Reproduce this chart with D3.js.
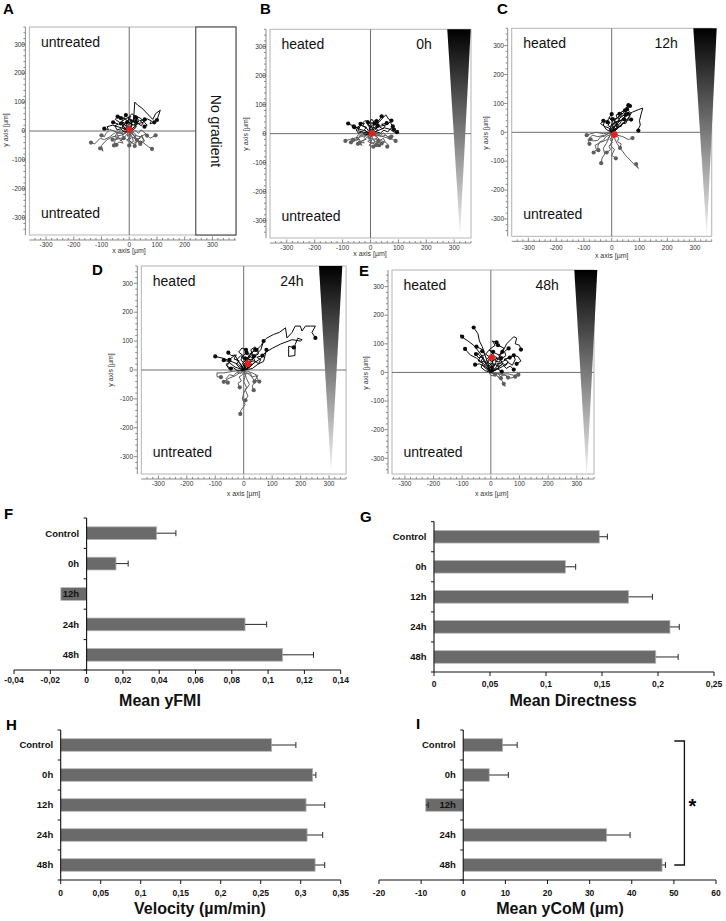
<!DOCTYPE html>
<html><head><meta charset="utf-8">
<script src="https://cdn.jsdelivr.net/npm/d3@7"></script>
<style>body{margin:0;background:#fff}svg{display:block}text{font-family:"Liberation Sans",Arial,sans-serif}</style>
</head><body><svg id="c" width="726" height="921"></svg>
<script>
// ---------------- DATA ----------------
const barCategories = ["Control", "0h", "12h", "24h", "48h"];
const yFMI = [0.0386, 0.0162, -0.0142, 0.0873, 0.108];
const yFMIErr = [0.0492, 0.0229, -0.0142, 0.0992, 0.125];
const directness = [0.1476, 0.1173, 0.1738, 0.2107, 0.198];
const directnessErr = [0.1548, 0.1265, 0.195, 0.219, 0.218];
const velocity = [0.2637, 0.315, 0.3067, 0.308, 0.318];
const velocityErr = [0.294, 0.319, 0.330, 0.3275, 0.330];
const yCoM = [9.35, 6.17, -8.9, 34.05, 47.2];
const yCoMErr = [12.8, 10.7, -8.3, 39.6, 48.0];

const ticksFMI = [-0.04, -0.02, 0, 0.02, 0.04, 0.06, 0.08, 0.1, 0.12, 0.14];
const tickLabelsFMI = ["-0,04", "-0,02", "0", "0,02", "0,04", "0,06", "0,08", "0,1", "0,12", "0,14"];
const ticksDir = [0, 0.05, 0.1, 0.15, 0.2, 0.25];
const tickLabelsDir = ["0", "0,05", "0,1", "0,15", "0,2", "0,25"];
const ticksVel = [0, 0.05, 0.1, 0.15, 0.2, 0.25, 0.3, 0.35];
const tickLabelsVel = ["0", "0,05", "0,1", "0,15", "0,2", "0,25", "0,3", "0,35"];
const ticksCoM = [-20, -10, 0, 10, 20, 30, 40, 50, 60];
const tickLabelsCoM = ["-20", "-10", "0", "10", "20", "30", "40", "50", "60"];

const trackTicks = [-300, -200, -100, 0, 100, 200, 300];

// trajectories (x, y in µm), all starting at the origin
const tracksA = [
  [[0,0],[10,20],[5,40],[15,30],[20,100],[30,90],[45,80],[70,55],[85,40],[95,60],[112,72],[100,38]],
  [[0,0],[-20,15],[-35,30],[-50,40],[-40,55],[-30,45]],
  [[0,0],[15,10],[30,25],[50,30],[65,42],[80,35],[75,25],[90,30]],
  [[0,0],[-10,20],[-5,35],[-20,45],[-12,55]],
  [[0,0],[20,15],[35,35],[25,50],[40,45],[55,30],[65,20],[55,15]],
  [[0,0],[-25,10],[-60,20],[-80,15],[-75,5],[-90,8]],
  [[0,0],[5,15],[10,30],[-5,45],[10,60],[25,45]],
  [[0,0],[-20,28],[-38,22],[-15,42],[5,50],[-8,30]],
  [[0,0],[8,12],[-6,18],[4,28],[-10,34],[2,42],[14,36],[6,24],[18,20],[24,32]],
  [[0,0],[-12,6],[-22,16],[-14,26],[-28,32],[-20,44],[-34,40],[-42,50]],
  [[0,0],[14,4],[26,14],[18,22],[32,26],[44,18],[50,28],[38,36],[56,40]],
  [[0,0],[-4,10],[10,18],[2,30],[16,40],[28,34],[22,48]],
  [[0,0],[-18,-4],[-30,8],[-44,4],[-52,18],[-40,24],[-58,30]],
  [[0,0],[6,8],[-8,14],[-16,6],[-26,14],[-18,22],[-30,26]],
  [[0,0],[-20,-10],[-50,-5],[-70,-20],[-90,-30],[-105,-25],[-125,-45],[-138,-40]],
  [[0,0],[-30,-15],[-60,-20],[-80,-30],[-100,-50],[-95,-70],[-105,-60]],
  [[0,0],[-15,-20],[-30,-25],[-50,-30],[-55,-50]],
  [[0,0],[20,-15],[40,-20],[60,-10],[75,-25],[90,-18],[95,-15]],
  [[0,0],[10,-20],[30,-35],[50,-40],[70,-55],[82,-62]],
  [[0,0],[-40,-5],[-70,5],[-85,-10],[-90,-20],[-100,-15]],
  [[0,0],[5,-15],[-5,-30],[10,-40],[0,-50]],
  [[0,0],[-25,10],[-45,-10],[-30,-35],[-20,-25]],
  [[0,0],[30,-30],[45,-15],[55,-35],[40,-45]],
  [[0,0],[6,-10],[-8,-16],[4,-26],[-10,-30],[2,-42],[16,-36],[10,-24],[22,-20],[28,-32]],
  [[0,0],[-12,-6],[-24,-14],[-16,-24],[-30,-30],[-22,-42],[-38,-38],[-46,-48]],
  [[0,0],[14,-4],[26,-14],[18,-24],[34,-28],[46,-20],[52,-32],[40,-40]],
  [[0,0],[-6,-12],[8,-20],[0,-32],[14,-44],[26,-38],[20,-52]],
  [[0,0],[-16,4],[-28,-8],[-44,-6],[-52,-20],[-38,-24],[-60,-30]],
  [[0,0],[10,-6],[20,2],[34,-8],[42,4],[56,-6],[64,-16]]
];
const tracksB = [
  [[0,0],[-20,10],[-40,15],[-55,25],[-70,30],[-80,35]],
  [[0,0],[-15,20],[-35,30],[-50,20],[-60,25]],
  [[0,0],[15,20],[30,40],[45,55],[55,65],[65,50],[75,45]],
  [[0,0],[25,10],[50,20],[70,15],[85,5],[100,10],[95,5]],
  [[0,0],[-5,25],[10,40],[20,50],[30,45],[40,60]],
  [[0,0],[30,25],[55,30],[70,40],[80,25]],
  [[0,0],[-25,5],[-45,10],[-35,30],[-20,45],[-10,40]],
  [[0,0],[10,15],[-10,30],[5,50],[15,35]],
  [[0,0],[8,10],[-6,16],[4,24],[-10,30],[2,38],[14,32],[8,22],[20,18],[26,28]],
  [[0,0],[-12,6],[-22,14],[-14,22],[-28,26],[-22,36],[-36,34]],
  [[0,0],[14,4],[26,12],[18,20],[32,24],[44,16],[52,26],[40,32],[58,36]],
  [[0,0],[-4,10],[10,16],[2,26],[16,34],[28,28],[22,42]],
  [[0,0],[-18,-4],[-30,6],[-44,2],[-52,14],[-40,20],[-58,22]],
  [[0,0],[20,6],[36,2],[48,12],[62,6],[72,18],[84,14]],
  [[0,0],[-30,-10],[-55,-15],[-75,-20],[-90,-25]],
  [[0,0],[20,-10],[40,-25],[55,-30],[65,-40],[60,-45]],
  [[0,0],[10,-20],[25,-35],[35,-45],[30,-40]],
  [[0,0],[-20,-20],[-40,-30],[-30,-40],[-45,-35]],
  [[0,0],[30,-5],[60,-15],[80,-20],[90,-25]],
  [[0,0],[-10,-15],[5,-30],[-5,-40],[10,-45]],
  [[0,0],[40,-10],[55,-5],[70,-20],[75,-10]],
  [[0,0],[-35,-5],[-50,-25],[-65,-15],[-70,-30]],
  [[0,0],[6,-10],[-8,-14],[4,-22],[-10,-26],[2,-34],[16,-30],[10,-20],[22,-16],[28,-26]],
  [[0,0],[-12,-6],[-24,-12],[-16,-20],[-30,-24],[-22,-32],[-38,-30]],
  [[0,0],[14,-4],[26,-12],[18,-20],[34,-24],[46,-16],[52,-28],[40,-34]],
  [[0,0],[-6,-12],[8,-18],[0,-28],[14,-36],[26,-30],[20,-40]],
  [[0,0],[-16,4],[-28,-6],[-44,-4],[-52,-16],[-38,-20],[-62,-22]],
  [[0,0],[10,-6],[22,2],[36,-6],[46,2],[58,-8],[70,-14]]
];
const tracksC = [
  [[0,0],[10,20],[20,35],[30,50],[45,60],[55,75],[60,85],[66,91]],
  [[0,0],[15,25],[35,45],[55,60],[75,70],[95,78],[112,84],[105,60],[100,40],[103,25],[95,10],[96,6]],
  [[0,0],[-5,20],[5,35],[-10,50],[0,63]],
  [[0,0],[-20,10],[-30,25],[-25,40],[-15,35]],
  [[0,0],[20,15],[40,30],[55,40],[65,55],[60,70],[50,60]],
  [[0,0],[10,10],[25,20],[15,35],[30,40],[45,45]],
  [[0,0],[-10,15],[-25,20],[-40,30],[-30,40]],
  [[0,0],[30,20],[45,35],[60,50],[70,65],[55,80]],
  [[0,0],[6,12],[0,22],[12,30],[8,42],[20,48],[16,60],[28,64]],
  [[0,0],[10,8],[4,18],[18,24],[14,36],[28,40],[24,52],[38,58],[34,70],[48,76]],
  [[0,0],[-4,10],[6,16],[2,28],[14,34],[10,46],[22,50],[30,62],[42,66],[50,82],[60,94]],
  [[0,0],[12,4],[20,14],[16,24],[30,30],[36,42],[48,46],[46,58],[58,64]],
  [[0,0],[-8,6],[-4,18],[-14,24],[-6,34],[-16,40],[-8,50],[4,46]],
  [[0,0],[8,16],[18,10],[22,22],[34,20],[38,32],[50,30],[56,42],[70,44]],
  [[0,0],[10,-20],[20,-40],[35,-60],[50,-80],[70,-100],[85,-115],[96,-125],[88,-110]],
  [[0,0],[-10,-20],[-20,-40],[-30,-55],[-25,-75],[-35,-90],[-38,-107]],
  [[0,0],[-25,-10],[-50,-15],[-70,-10],[-85,-25],[-80,-40]],
  [[0,0],[-15,-25],[-40,-35],[-60,-45],[-55,-60],[-65,-70]],
  [[0,0],[20,-10],[40,-15],[60,-25],[75,-20]],
  [[0,0],[5,-20],[-5,-45],[10,-60],[0,-80],[15,-90]],
  [[0,0],[-30,-5],[-55,0],[-75,-5],[-90,-10]],
  [[0,0],[-8,-10],[-20,-14],[-30,-28],[-44,-34],[-50,-48],[-48,-62]],
  [[0,0],[4,-12],[-6,-24],[2,-36],[-10,-48],[-4,-60],[-18,-70]],
  [[0,0],[-14,-4],[-26,-14],[-40,-16],[-50,-28],[-68,-30],[-76,-24]],
  [[0,0],[12,-8],[26,-20],[20,-32],[34,-40],[30,-54]]
];
const tracksD = [
  [[0,0],[20,30],[40,50],[60,70],[70,100],[80,110],[105,123],[125,130],[147,146],[152,111],[170,130],[181,152],[199,152],[205,135],[217,152],[235,152],[252,152],[240,130],[252,111]],
  [[0,0],[30,20],[60,40],[75,60],[100,75],[130,90],[170,105],[200,100],[205,105],[190,110],[181,88],[180,50],[158,47],[158,82],[176,78]],
  [[0,0],[-20,20],[-45,30],[-70,40],[-100,47]],
  [[0,0],[10,30],[30,55],[25,70],[40,80],[45,70]],
  [[0,0],[-15,25],[-30,50],[-40,45],[-50,35]],
  [[0,0],[30,5],[50,20],[70,30],[75,50],[80,70]],
  [[0,0],[-30,10],[-50,25],[-60,15],[-45,5]],
  [[0,0],[15,45],[35,65],[20,55],[10,60]],
  [[0,0],[-10,20],[-25,35],[-10,50],[5,40]],
  [[0,0],[10,14],[-6,22],[8,34],[-8,44],[6,56],[22,50],[14,38],[30,34],[36,48]],
  [[0,0],[-14,8],[-26,20],[-16,32],[-34,38],[-26,52],[-44,50],[-54,60]],
  [[0,0],[16,6],[30,18],[20,28],[38,32],[52,22],[60,36],[46,44],[66,50]],
  [[0,0],[-4,14],[12,22],[4,36],[20,48],[34,40],[28,58],[40,70]],
  [[0,0],[-20,-4],[-36,8],[-52,4],[-62,20],[-48,28],[-70,34]],
  [[0,0],[6,20],[-10,34],[-2,50],[-18,62],[-6,76],[8,70]],
  [[0,0],[24,12],[40,28],[34,44],[52,56],[48,72],[62,86],[70,100]],
  [[0,0],[5,-20],[0,-40],[10,-60],[0,-80],[-5,-100],[5,-120],[-10,-140],[-12,-152]],
  [[0,0],[10,-30],[20,-50],[6,-70],[15,-90],[6,-105]],
  [[0,0],[25,-20],[40,-40],[30,-55],[35,-70]],
  [[0,0],[-40,-5],[-70,-10],[-94,-10],[-94,-23],[-80,-25]],
  [[0,0],[-30,-20],[-55,-30],[-70,-41]],
  [[0,0],[30,-10],[50,-20],[40,-35],[55,-40]],
  [[0,0],[-10,-12],[-24,-8],[-36,-20],[-50,-16],[-62,-30],[-56,-44]],
  [[0,0],[8,-14],[22,-10],[30,-24],[44,-20],[50,-34],[38,-40]],
  [[0,0],[-4,-16],[-16,-24],[-8,-38],[-20,-46],[-14,-60]]
];
const tracksE = [
  [[0,0],[-10,30],[-20,60],[-30,90],[-40,110],[-45,135],[-55,150],[-60,157]],
  [[0,0],[-20,40],[-40,70],[-60,95],[-80,110],[-95,120],[-107,131],[-100,125]],
  [[0,0],[-25,30],[-50,50],[-70,60],[-85,75],[-90,82]],
  [[0,0],[20,40],[40,70],[55,100],[70,115],[80,125],[90,120],[85,100],[100,95],[105,80]],
  [[0,0],[-20,20],[-40,30],[-55,27]],
  [[0,0],[20,15],[38,3]],
  [[0,0],[30,30],[60,50],[80,60],[95,55],[105,40],[90,30]],
  [[0,0],[10,60],[-5,80],[15,95],[5,110],[20,105]],
  [[0,0],[-30,50],[-45,65],[-30,80],[-50,90]],
  [[0,0],[40,20],[60,35],[75,25],[85,45],[80,60]],
  [[0,0],[-15,45],[10,70],[30,60],[45,85],[25,95]],
  [[0,0],[10,14],[-6,24],[8,36],[-8,46],[6,58],[22,52],[14,40],[30,36],[36,50]],
  [[0,0],[-14,10],[-26,22],[-16,34],[-34,40],[-26,54],[-44,52],[-52,64]],
  [[0,0],[16,8],[30,20],[20,30],[38,34],[52,24],[60,38],[46,46],[66,52]],
  [[0,0],[-4,16],[12,24],[4,38],[20,50],[34,42],[28,60],[40,72]],
  [[0,0],[6,22],[-10,36],[-2,52],[-18,64],[-6,78],[8,72]],
  [[0,0],[24,14],[40,30],[34,46],[52,58],[48,74],[62,84]],
  [[0,0],[-20,6],[-34,18],[-28,32],[-44,40],[-36,56],[-20,62],[-30,74]],
  [[0,0],[12,30],[26,20],[40,28],[54,14],[68,22],[80,10]],
  [[0,0],[20,-10],[40,-30],[50,-49],[45,-40]],
  [[0,0],[30,-5],[60,-5],[80,-10],[96,-8]],
  [[0,0],[15,-5],[25,-15],[35,-20]],
  [[0,0],[50,-10],[70,-20],[85,-15]],
  [[0,0],[10,-6],[24,-4],[34,-14],[48,-8],[60,-18]],
  [[0,0],[-6,-4],[4,-12],[14,-8]]
];
const comA = [0, 6];
const comB = [5, 1];
const comC = [10, -8];
const comD = [15, 22];
const comE = [3, 52];

// ---------------- DRAWING ----------------
const svg = d3.select("#c");
const defs = svg.append("defs");
const lg = defs.append("linearGradient").attr("id", "grad").attr("x1", 0).attr("y1", 0).attr("x2", 0).attr("y2", 1);
lg.append("stop").attr("offset", "0").attr("stop-color", "#000");
lg.append("stop").attr("offset", "1").attr("stop-color", "#f4f4f4");

const scatterPanels = [
  {letter: "A", lx: 3, ly: 14, tracks: tracksA, com: comA, xr: [29.4, 236], xd: [-360, 385], yr: [235, 27], yd: [-360, 360],
   hEnd: 240, noGrad: true, topText: "untreated", topRight: null, yLabX: 25, xLabY: 247, axX: 129, axY: 253, ayX: 8, ayY: 130},
  {letter: "B", lx: 260, ly: 14, tracks: tracksB, com: comB, xr: [270, 471], xd: [-360, 360], yr: [238, 29.3], yd: [-360, 360],
   tri: [447.3, 470.7, 460, 236], topText: "heated", topRight: "0h", yLabX: 266, xLabY: 250, axX: 370, axY: 256, ayX: 248, ayY: 134},
  {letter: "C", lx: 497, ly: 14, tracks: tracksC, com: comC, xr: [511.7, 711.7], xd: [-360, 360], yr: [236.3, 28.3], yd: [-360, 360],
   tri: [693.3, 716.7, 706.7, 236], topText: "heated", topRight: "12h", yLabX: 504, xLabY: 250, axX: 611.7, axY: 258, ayX: 488, ayY: 133},
  {letter: "D", lx: 92, ly: 275, tracks: tracksD, com: comD, xr: [141.3, 346.1], xd: [-360, 360], yr: [474, 266], yd: [-360, 360],
   tri: [319, 342.3, 331, 472.7], topText: "heated", topRight: "24h", yLabX: 133, xLabY: 486, axX: 243.5, axY: 496, ayX: 113, ayY: 370},
  {letter: "E", lx: 359, ly: 276, tracks: tracksE, com: comE, xr: [392, 594], xd: [-345, 360], yr: [474, 270], yd: [-355, 358],
   tri: [574.3, 597.3, 586.7, 476.7], topText: "heated", topRight: "48h", yLabX: 384, xLabY: 486, axX: 491.7, axY: 496, ayX: 368, ayY: 373}
];

function drawScatter(p) {
  const g = svg.append("g");
  const x = d3.scaleLinear().domain(p.xd).range(p.xr);
  const y = d3.scaleLinear().domain(p.yd).range(p.yr);
  const top = p.yr[1], bot = p.yr[0], left = p.xr[0], right = p.xr[1];
  g.append("rect").attr("x", left).attr("y", top).attr("width", right - left).attr("height", bot - top)
    .attr("fill", "#fff").attr("stroke", "#b4b4b4").attr("stroke-width", 1);
  g.append("line").attr("x1", x(0)).attr("x2", x(0)).attr("y1", top).attr("y2", bot).attr("stroke", "#6e6e6e").attr("stroke-width", 1);
  g.append("line").attr("x1", left).attr("x2", p.hEnd != null ? x(p.hEnd) : right).attr("y1", y(0)).attr("y2", y(0))
    .attr("stroke", "#6e6e6e").attr("stroke-width", 1);
  const axc = "#8a8a8a";
  const xAxY = bot + 5, yAxX = left - 4;
  g.append("line").attr("x1", left).attr("x2", right).attr("y1", xAxY).attr("y2", xAxY).attr("stroke", axc);
  g.append("line").attr("x1", yAxX).attr("x2", yAxX).attr("y1", top).attr("y2", bot).attr("stroke", axc);
  const minor = d3.range(-340, 381, 20);
  minor.filter(v => v >= p.xd[0] && v <= p.xd[1]).forEach(v => {
    const L = v % 100 === 0 ? 3.5 : 2;
    g.append("line").attr("x1", x(v)).attr("x2", x(v)).attr("y1", xAxY).attr("y2", xAxY - L).attr("stroke", axc);
  });
  minor.filter(v => v >= p.yd[0] && v <= p.yd[1]).forEach(v => {
    const L = v % 100 === 0 ? 3.5 : 2;
    g.append("line").attr("x1", yAxX).attr("x2", yAxX - L).attr("y1", y(v)).attr("y2", y(v)).attr("stroke", axc);
  });
  trackTicks.forEach(v => {
    g.append("text").attr("x", x(v)).attr("y", p.xLabY).attr("text-anchor", "middle").attr("font-size", 6.5).attr("fill", "#333").text(v);
    g.append("text").attr("x", p.yLabX).attr("y", y(v)).attr("dy", "0.35em").attr("text-anchor", "end").attr("font-size", 6.5).attr("fill", "#333").text(v);
  });
  g.append("text").attr("x", p.axX).attr("y", p.axY).attr("text-anchor", "middle").attr("font-size", 7).attr("fill", "#333").text("x axis [µm]");
  g.append("text").attr("transform", `translate(${p.ayX},${p.ayY}) rotate(-90)`).attr("text-anchor", "middle").attr("font-size", 7).attr("fill", "#333").text("y axis [µm]");
  const line = d3.line().x(d => x(d[0])).y(d => y(d[1]));
  const tg = g.append("g");
  const ordered = p.tracks.slice().sort((a, b) => a[a.length - 1][1] - b[b.length - 1][1]);
  ordered.forEach(t => {
    const end = t[t.length - 1];
    const col = end[1] >= 0 ? "#0a0a0a" : "#5e5e5e";
    tg.append("path").attr("d", line(t)).attr("fill", "none").attr("stroke", col).attr("stroke-width", 1).attr("stroke-linejoin", "round");
    tg.append("circle").attr("cx", x(end[0])).attr("cy", y(end[1])).attr("r", 2.1).attr("fill", col);
  });
  g.append("circle").attr("cx", x(p.com[0])).attr("cy", y(p.com[1])).attr("r", 3.3).attr("fill", "#e3201b");
  if (p.noGrad) {
    const bx = x(p.hEnd);
    g.append("rect").attr("x", bx).attr("y", top).attr("width", right - bx).attr("height", bot - top).attr("fill", "#fff").attr("stroke", "#333");
    g.append("text").attr("transform", `translate(${(bx + right) / 2 - 5},${(top + bot) / 2}) rotate(90)`).attr("text-anchor", "middle")
      .attr("font-size", 14).attr("fill", "#111").text("No gradient");
  } else {
    const t = p.tri;
    g.append("path").attr("d", `M${t[0]},${top}L${t[1]},${top}L${t[2]},${t[3]}Z`).attr("fill", "url(#grad)");
  }
  g.append("text").attr("x", left + 11.5).attr("y", top + 20).attr("font-size", 14).attr("fill", "#111").text(p.topText);
  g.append("text").attr("x", left + 11.5).attr("y", bot - 17.5).attr("font-size", 14).attr("fill", "#111").text("untreated");
  if (p.topRight) {
    g.append("text").attr("x", p.tri[0] - 15.5).attr("y", top + 20).attr("text-anchor", "end").attr("font-size", 14).attr("fill", "#111").text(p.topRight);
  }
  svg.append("text").attr("x", p.lx).attr("y", p.ly).attr("font-size", 15).attr("font-weight", "bold").text(p.letter);
}
scatterPanels.forEach(drawScatter);

// ---------------- BAR CHARTS ----------------
const barPanels = [
  {letter: "F", lx: 4, ly: 519, values: yFMI, errs: yFMIErr, ticks: ticksFMI, labels: tickLabelsFMI, xd: [-0.04, 0.14], xr: [14, 340.7],
   band: [518, 670], tickY: 683, title: "Mean yFMI", titleX: 160, titleY: 706},
  {letter: "G", lx: 360, ly: 522, values: directness, errs: directnessErr, ticks: ticksDir, labels: tickLabelsDir, xd: [0, 0.25], xr: [434, 714],
   band: [521.7, 672], tickY: 687, title: "Mean Directness", titleX: 573, titleY: 706},
  {letter: "H", lx: 6, ly: 730, values: velocity, errs: velocityErr, ticks: ticksVel, labels: tickLabelsVel, xd: [0, 0.35], xr: [60.7, 340.7],
   band: [730, 880], tickY: 896, title: "Velocity (µm/min)", titleX: 200, titleY: 914},
  {letter: "I", lx: 416, ly: 729, values: yCoM, errs: yCoMErr, ticks: ticksCoM, labels: tickLabelsCoM, xd: [-20, 60], xr: [379, 716],
   band: [730, 880], tickY: 896, title: "Mean yCoM (µm)", titleX: 560, titleY: 914}
];

function drawBars(p) {
  const g = svg.append("g");
  const x = d3.scaleLinear().domain(p.xd).range(p.xr);
  const y = d3.scaleBand().domain(barCategories).range(p.band).paddingInner(0.58).paddingOuter(0.29);
  const x0 = x(0);
  const bw = y.bandwidth();
  barCategories.forEach((c, i) => {
    const v = p.values[i];
    g.append("rect").attr("x", Math.min(x0, x(v))).attr("y", y(c)).attr("width", Math.abs(x(v) - x0)).attr("height", bw)
      .attr("fill", "#6a6a6a").attr("stroke", "#b8b8b8").attr("stroke-width", 0.8);
  });
  barCategories.forEach((c, i) => {
    const v = p.values[i], e = p.errs[i];
    if (e === v) return;
    const cy = y(c) + bw / 2;
    g.append("line").attr("x1", x(v)).attr("x2", x(e)).attr("y1", cy).attr("y2", cy).attr("stroke", "#2a2a2a").attr("stroke-width", 1);
    g.append("line").attr("x1", x(e)).attr("x2", x(e)).attr("y1", cy - 3).attr("y2", cy + 3).attr("stroke", "#2a2a2a").attr("stroke-width", 1);
  });
  const yb = p.band[1];
  g.append("line").attr("x1", p.xr[0]).attr("x2", p.xr[1]).attr("y1", yb).attr("y2", yb).attr("stroke", "#111").attr("stroke-width", 1.1);
  g.append("line").attr("x1", x0).attr("x2", x0).attr("y1", p.band[0]).attr("y2", yb).attr("stroke", "#111").attr("stroke-width", 1.1);
  p.ticks.forEach((t, i) => {
    g.append("line").attr("x1", x(t)).attr("x2", x(t)).attr("y1", yb).attr("y2", yb + 4).attr("stroke", "#111");
    g.append("text").attr("x", x(t)).attr("y", p.tickY).attr("text-anchor", "middle").attr("font-size", 8.5).attr("font-weight", "bold").attr("fill", "#111").text(p.labels[i]);
  });
  const step = y.step();
  d3.range(0, barCategories.length + 1).forEach(k => {
    const yy = p.band[0] + k * step;
    g.append("line").attr("x1", x0).attr("x2", x0 - 3).attr("y1", yy).attr("y2", yy).attr("stroke", "#111");
  });
  barCategories.forEach(c => {
    g.append("text").attr("x", x0 - 7.5).attr("y", y(c) + bw / 2).attr("dy", "0.35em").attr("text-anchor", "end")
      .attr("font-size", 9.5).attr("font-weight", "bold").attr("fill", "#111").text(c);
  });
  g.append("text").attr("x", p.titleX).attr("y", p.titleY).attr("text-anchor", "middle").attr("font-size", 16).attr("font-weight", "bold").attr("fill", "#111").text(p.title);
  svg.append("text").attr("x", p.lx).attr("y", p.ly).attr("font-size", 15).attr("font-weight", "bold").text(p.letter);
  return {x, y};
}
const barScales = barPanels.map(drawBars);

// significance bracket in panel I
(function () {
  const s = barScales[3];
  const yTop = s.y("Control") + s.y.bandwidth() / 2 - 4;
  const yBot = s.y("48h") + s.y.bandwidth() / 2;
  const xr = s.x(52.5), xl = s.x(50.1);
  svg.append("path").attr("d", `M${xl},${yTop}H${xr}V${yBot}H${xl}`).attr("fill", "none").attr("stroke", "#111").attr("stroke-width", 1.3);
  svg.append("text").attr("x", xr + 8).attr("y", (yTop + yBot) / 2 + 10).attr("text-anchor", "middle").attr("font-size", 20).attr("font-weight", "bold").text("*");
})();
</script></body></html>
